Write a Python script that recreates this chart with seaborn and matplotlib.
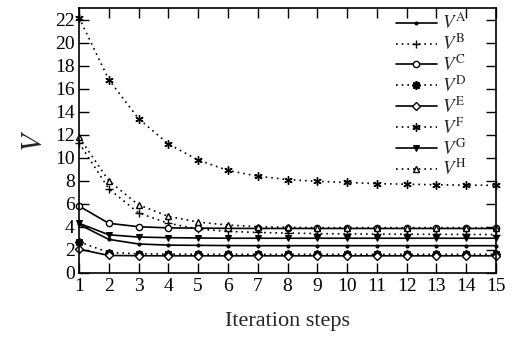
import matplotlib
matplotlib.use("Agg")
import matplotlib.pyplot as plt
import seaborn as sns
import pandas as pd

steps = list(range(1, 16))
V_A = [4.2, 2.9, 2.5, 2.4, 2.38, 2.36, 2.35, 2.35, 2.35, 2.35, 2.35, 2.35, 2.35, 2.35, 2.35]
V_B = [11.3, 7.3, 5.2, 4.3, 3.8, 3.6, 3.5, 3.45, 3.4, 3.38, 3.36, 3.35, 3.34, 3.33, 3.32]
V_C = [5.8, 4.3, 4.0, 3.9, 3.88, 3.86, 3.85, 3.85, 3.85, 3.85, 3.85, 3.85, 3.85, 3.85, 3.85]
V_D = [2.7, 1.75, 1.65, 1.62, 1.6, 1.6, 1.6, 1.6, 1.6, 1.6, 1.6, 1.6, 1.6, 1.6, 1.6]
V_E = [2.05, 1.5, 1.48, 1.47, 1.47, 1.47, 1.47, 1.47, 1.47, 1.47, 1.47, 1.47, 1.47, 1.47, 1.47]
V_F = [22.2, 16.8, 13.4, 11.2, 9.8, 8.9, 8.4, 8.1, 7.95, 7.85, 7.75, 7.7, 7.65, 7.62, 7.6]
V_G = [4.3, 3.3, 3.1, 3.05, 3.02, 3.0, 3.0, 3.0, 3.0, 3.0, 3.0, 3.0, 3.0, 3.0, 3.0]
V_H = [11.8, 8.0, 5.9, 4.9, 4.4, 4.15, 4.0, 3.95, 3.92, 3.92, 3.92, 3.92, 3.92, 3.92, 3.92]
labels = ["A", "B", "C", "D", "E", "F", "G", "H"]
y_ticks = list(range(0, 23, 2))

sns.set_theme(style="ticks")
plt.rcParams["font.family"] = ["Liberation Serif", "DejaVu Serif"]
plt.rcParams["mathtext.fontset"] = "stix"

fig = plt.figure(figsize=(5.13, 3.42), dpi=100)
ax = fig.add_axes([0.154, 0.2026, 0.813, 0.773])

dotted = (0, (1, 2.4))
styles = {
    "A": dict(linestyle="-", marker="o", ms=2.2, mfc="black"),
    "B": dict(linestyle=dotted, marker="+", ms=6, mew=1.0),
    "C": dict(linestyle="-", marker="o", ms=4.5, mfc="white", mew=1.0),
    "D": dict(linestyle=dotted, marker=(8, 2, 0), ms=6, mew=1.3),
    "E": dict(linestyle="-", marker="D", ms=4, mfc="white", mew=1.0),
    "F": dict(linestyle=dotted, marker=(6, 2, 0), ms=6, mew=1.0),
    "G": dict(linestyle="-", marker="v", ms=5, mfc="black"),
    "H": dict(linestyle=dotted, marker="^", ms=5, mfc="white", mew=1.0),
}
series = [V_A, V_B, V_C, V_D, V_E, V_F, V_G, V_H]
for lab, vals in zip(labels, series):
    df = pd.DataFrame({"step": steps, "V": vals})
    sns.lineplot(data=df, x="step", y="V", ax=ax, color="black", lw=1.2,
                 mec="black", label=r"$V^{\mathrm{" + lab + "}}$",
                 clip_on=False, **styles[lab])

ax.set_xlim(1, 15)
ax.set_ylim(0, 23)
ax.set_xticks(steps)
ax.set_yticks(y_ticks)
ax.tick_params(direction="in", length=7, width=1.0, top=True, right=True,
               colors="black", pad=4)
ax.tick_params(axis="x", labeltop=False, labelsize=14)
ax.tick_params(axis="y", labelright=False, labelsize=14, pad=3)
for s in ax.spines.values():
    s.set_color("black")
    s.set_linewidth(1.2)
ax.set_xlabel("Iteration steps", fontsize=16, labelpad=12)
ax.set_ylabel(r"$V$", fontsize=21, labelpad=6)
ax.set_facecolor("white")

leg = ax.legend(loc="upper right", frameon=False, fontsize=13.5, handlelength=2.2,
                handletextpad=0.25, labelspacing=0.03, borderaxespad=0.0,
                bbox_to_anchor=(0.94, 1.0), borderpad=0.25)

fig.savefig("out.png", dpi=100, facecolor="white")
